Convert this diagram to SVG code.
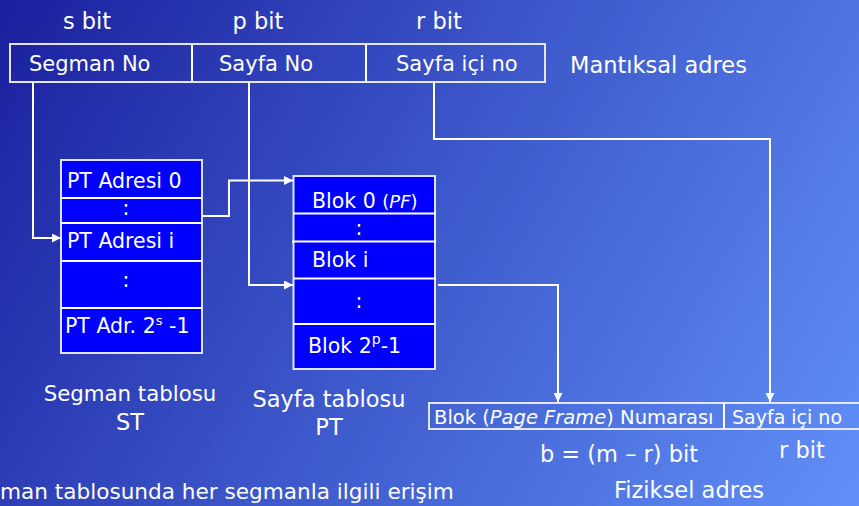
<svg xmlns="http://www.w3.org/2000/svg" width="859" height="506" viewBox="0 0 859 506">
  <defs>
    <linearGradient id="bg" x1="0" y1="0" x2="859" y2="506" gradientUnits="userSpaceOnUse">
      <stop offset="0" stop-color="#1a1f9e"/>
      <stop offset="0.5" stop-color="#3e5acc"/>
      <stop offset="1" stop-color="#6190f7"/>
    </linearGradient>
    <marker id="arr" viewBox="0 0 10 10" refX="10" refY="5" markerWidth="9" markerHeight="9" markerUnits="userSpaceOnUse" orient="auto">
      <path d="M0,0 L10,5 L0,10 z" fill="#ffffff"/>
    </marker>
    <style>
      text { font-family: "DejaVu Sans", "Noto Sans", sans-serif; fill: #ffffff; font-size: 22.5px; }
      .field { font-size: 21px; }
      .cell { font-size: 20.5px; }
      .small { font-size: 19.5px; }
      .tiny { font-size: 19px; }
      .label { font-size: 21.3px; }
      .note { font-size: 21.6px; }
      .mid { text-anchor: middle; }
      .frame { fill: none; stroke: #e4e6f4; stroke-width: 2; }
      .table { fill: #0000ff; stroke: #dfe3f5; stroke-width: 2; }
      .row { stroke: #ffffff; stroke-width: 2; }
      .wire { fill: none; stroke: #ffffff; stroke-width: 2; }
    </style>
  </defs>

  <rect x="0" y="0" width="859" height="506" fill="url(#bg)"/>

  <!-- logical address -->
  <g id="logical-address">
    <text class="mid" x="87" y="29">s bit</text>
    <text class="mid" x="258" y="29">p bit</text>
    <text class="mid" x="439" y="29">r bit</text>
    <rect class="frame" x="10" y="44" width="535" height="38"/>
    <line class="row" x1="192" y1="44" x2="192" y2="82"/>
    <line class="row" x1="366" y1="44" x2="366" y2="82"/>
    <text class="field" x="29" y="71">Segman No</text>
    <text class="field" x="219" y="71">Sayfa No</text>
    <text class="field" x="396" y="71">Sayfa içi no</text>
    <text x="570" y="73">Mantıksal adres</text>
  </g>

  <!-- segment table -->
  <g id="segment-table">
    <rect class="table" x="61" y="160" width="141" height="193"/>
    <line class="row" x1="61" y1="198" x2="202" y2="198"/>
    <line class="row" x1="61" y1="223" x2="202" y2="223"/>
    <line class="row" x1="61" y1="261" x2="202" y2="261"/>
    <line class="row" x1="61" y1="308" x2="202" y2="308"/>
    <text class="cell" x="67" y="188">PT Adresi 0</text>
    <text class="cell mid" x="126" y="215">:</text>
    <text class="cell" x="67" y="248">PT Adresi i</text>
    <text class="cell mid" x="126" y="287">:</text>
    <text class="cell" x="65" y="333">PT Adr. 2<tspan font-size="13" dy="-8">s</tspan><tspan dy="8"> -1</tspan></text>
    <text class="label mid" x="130" y="401">Segman tablosu</text>
    <text class="mid" x="130" y="430">ST</text>
  </g>

  <!-- page table -->
  <g id="page-table">
    <rect class="table" x="293.5" y="176" width="141.5" height="193"/>
    <line class="row" x1="293.5" y1="213.5" x2="436" y2="213.5"/>
    <line class="row" x1="292" y1="241.5" x2="436" y2="241.5"/>
    <line class="row" x1="293.5" y1="278.5" x2="436" y2="278.5"/>
    <line class="row" x1="293.5" y1="324" x2="435" y2="324"/>
    <text class="cell" x="312" y="208">Blok 0 <tspan font-size="18">(<tspan font-style="italic">PF</tspan>)</tspan></text>
    <text class="cell mid" x="359" y="235">:</text>
    <text class="cell" x="312" y="267">Blok i</text>
    <text class="cell mid" x="359" y="308">:</text>
    <text class="cell" x="308" y="353">Blok 2<tspan font-size="14" dy="-9">p</tspan><tspan dy="9">-1</tspan></text>
    <text class="mid" x="329" y="407">Sayfa tablosu</text>
    <text class="mid" x="329" y="435">PT</text>
  </g>

  <!-- physical address -->
  <g id="physical-address">
    <rect class="frame" x="429" y="403" width="440" height="26"/>
    <line class="row" x1="724" y1="403" x2="724" y2="429"/>
    <text class="small" x="434" y="424">Blok (<tspan font-style="italic">Page Frame</tspan>) Numarası</text>
    <text class="tiny" x="732" y="424">Sayfa içi no</text>
    <text class="mid" x="619" y="462">b = (m – r) bit</text>
    <text class="mid" x="802" y="458">r bit</text>
    <text class="mid" x="689" y="498">Fiziksel adres</text>
  </g>

  <!-- note -->
  <g id="note">
    <text class="note" x="0" y="499">man tablosunda her segmanla ilgili erişim</text>
  </g>

  <!-- connectors -->
  <g id="connectors">
    <path class="wire" d="M33 82 V238 H61" marker-end="url(#arr)"/>
    <path class="wire" d="M202 216 H229 V180.5 H293" marker-end="url(#arr)"/>
    <path class="wire" d="M249 82 V285 H293" marker-end="url(#arr)"/>
    <path class="wire" d="M438 285 H558 V402" marker-end="url(#arr)"/>
    <path class="wire" d="M434 82 V139 H770 V402" marker-end="url(#arr)"/>
  </g>
</svg>
